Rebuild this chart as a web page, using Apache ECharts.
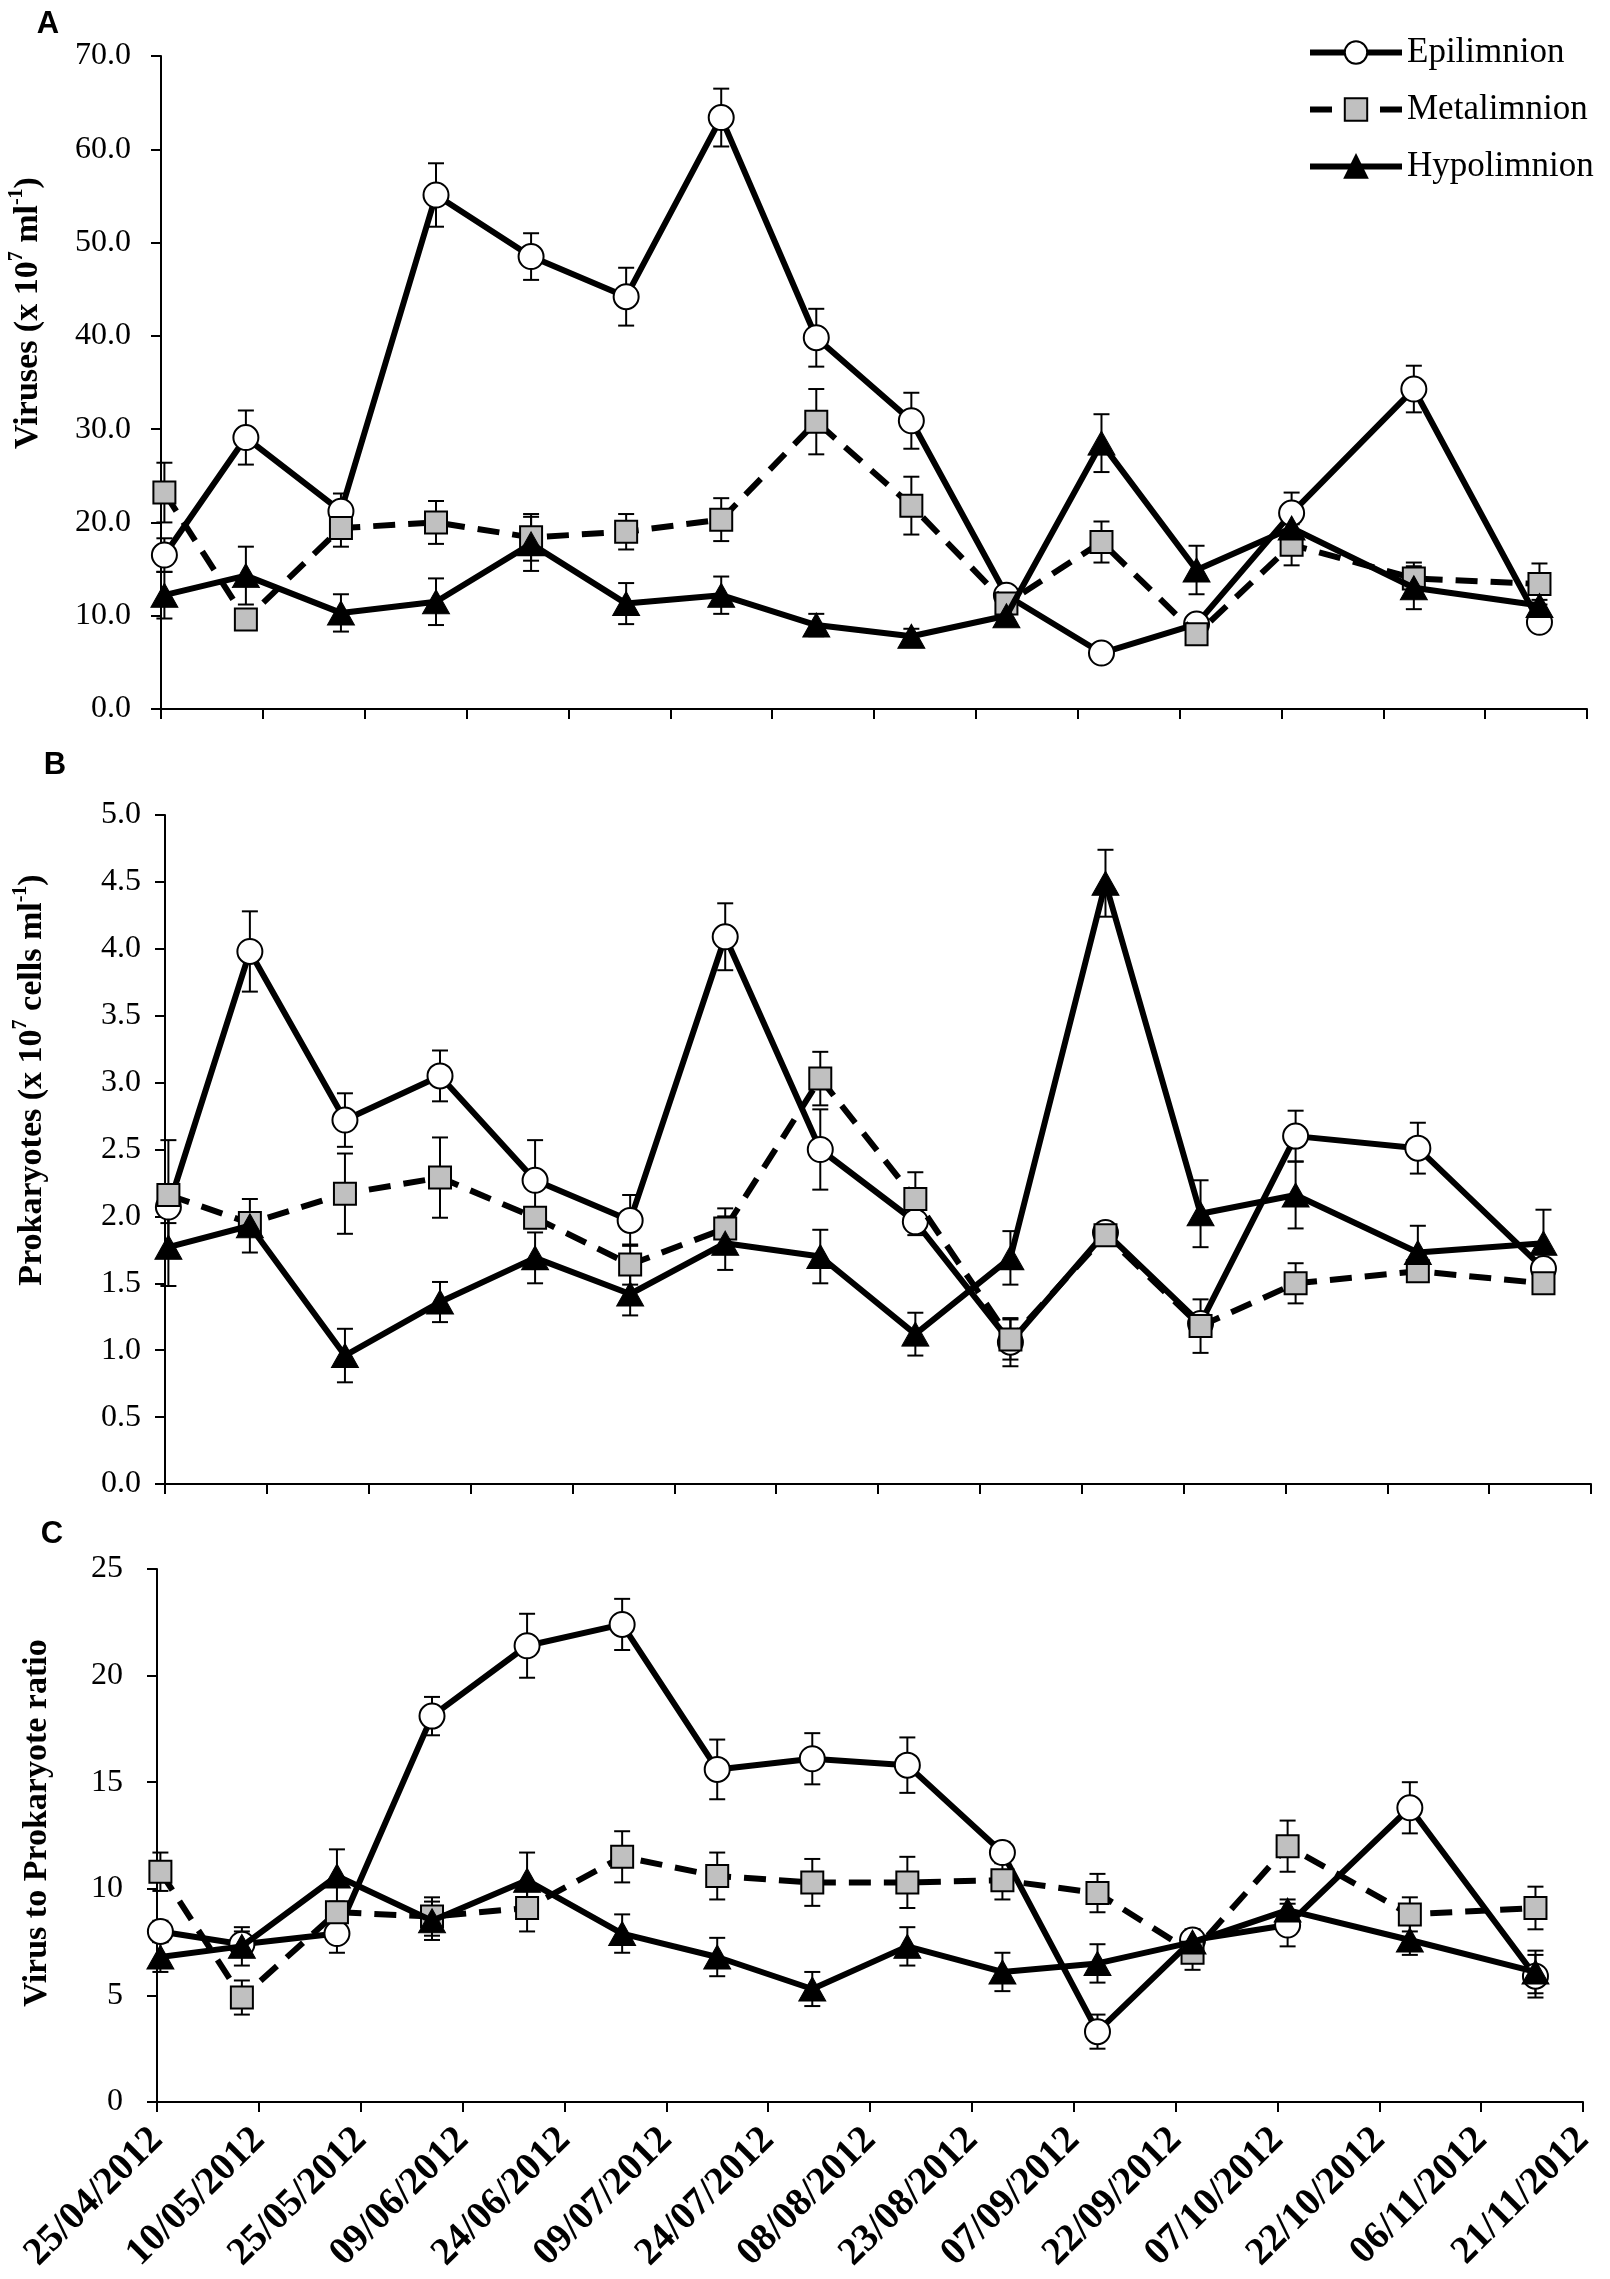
<!DOCTYPE html>
<html>
<head>
<meta charset="utf-8">
<script src="https://cdn.jsdelivr.net/npm/echarts@6/dist/echarts.min.js"></script>
<style>
  html, body { margin: 0; padding: 0; background: #fff; }
  #chart { width: 1610px; height: 2279px; }
</style>
</head>
<body>
<div id="chart"></div>
<script>
// Sampling days, counted from 25/04/2012
var sampleDay = [0.5, 12.5, 26.5, 40.5, 54.5, 68.5, 82.5, 96.5, 110.5, 124.5, 138.5, 152.5, 166.5, 184.5, 203];

// A: viruses (x 10^7 ml-1)
var virusEpi  = [16.5, 29.1, 21.2, 55.1, 48.5, 44.2, 63.4, 39.8, 30.9, 12.2, 6.0, 9.1, 21.0, 34.3, 9.3];
var virusMeta = [23.2, 9.6, 19.4, 20.0, 18.4, 19.0, 20.3, 30.8, 21.8, 11.3, 17.9, 8.0, 17.6, 14.0, 13.4];
var virusHypo = [12.2, 14.3, 10.3, 11.5, 17.7, 11.3, 12.2, 9.0, 7.8, 10.0, 28.5, 14.9, 19.4, 13.0, 11.1];
var virusEpiErr  = [1.8, 2.9, 1.9, 3.4, 2.5, 3.1, 3.1, 3.1, 3.0, 0.6, 0.4, 0.6, 2.2, 2.5, 0.6];
var virusMetaErr = [3.2, 1.0, 2.0, 2.3, 2.5, 1.9, 2.3, 3.5, 3.1, 0.6, 2.2, 0.5, 2.2, 1.7, 2.2];
var virusHypoErr = [2.5, 3.1, 2.0, 2.5, 2.9, 2.2, 2.0, 1.2, 0.8, 0.5, 3.1, 2.6, 0.5, 2.3, 0.6];

// B: prokaryotes (x 10^7 cells ml-1)
var prokEpi  = [2.07, 3.98, 2.72, 3.05, 2.27, 1.97, 4.09, 2.50, 1.96, 1.06, 1.88, 1.20, 2.60, 2.51, 1.61];
var prokMeta = [2.16, 1.95, 2.17, 2.29, 1.99, 1.64, 1.91, 3.03, 2.13, 1.08, 1.86, 1.18, 1.50, 1.59, 1.50];
var prokHypo = [1.77, 1.93, 0.96, 1.36, 1.69, 1.42, 1.80, 1.70, 1.12, 1.69, 4.49, 2.02, 2.16, 1.73, 1.80];
var prokEpiErr  = [0.12, 0.30, 0.20, 0.19, 0.30, 0.19, 0.25, 0.30, 0.10, 0.18, 0.05, 0.05, 0.19, 0.19, 0.05];
var prokMetaErr = [0.41, 0.05, 0.30, 0.30, 0.05, 0.15, 0.15, 0.20, 0.20, 0.15, 0.05, 0.20, 0.15, 0.05, 0.05];
var prokHypoErr = [0.29, 0.20, 0.20, 0.15, 0.19, 0.16, 0.20, 0.20, 0.16, 0.20, 0.25, 0.25, 0.25, 0.20, 0.25];

// C: virus to prokaryote ratio
var vprEpi  = [8.0, 7.4, 7.9, 18.1, 21.4, 22.4, 15.6, 16.1, 15.8, 11.7, 3.3, 7.6, 8.3, 13.8, 5.9];
var vprMeta = [10.8, 4.9, 8.9, 8.7, 9.1, 11.5, 10.6, 10.3, 10.3, 10.4, 9.8, 7.0, 12.0, 8.8, 9.1];
var vprHypo = [6.8, 7.3, 10.6, 8.5, 10.4, 7.9, 6.8, 5.3, 7.3, 6.1, 6.5, 7.5, 9.0, 7.6, 6.1];
var vprEpiErr  = [0.5, 0.6, 0.9, 0.9, 1.5, 1.2, 1.4, 1.2, 1.3, 0.5, 0.8, 0.5, 1.0, 1.2, 1.0];
var vprMetaErr = [0.9, 0.8, 0.5, 0.9, 1.1, 1.2, 1.1, 1.1, 1.2, 0.9, 0.9, 0.8, 1.2, 0.8, 1.0];
var vprHypoErr = [0.7, 0.9, 1.25, 0.9, 1.3, 0.9, 0.9, 0.8, 0.9, 0.9, 0.9, 0.5, 0.5, 0.7, 1.0];

var layerNames = ['Epilimnion', 'Metalimnion', 'Hypolimnion'];

var SERIF = '"Liberation Serif", "Times New Roman", serif';
var SANS = '"Liberation Sans", Arial, sans-serif';
var LINE_W = 6;

// Format a day offset as dd/mm/yyyy
function dayLabel(v) {
    var d = new Date(Date.UTC(2012, 3, 25) + v * 86400000);
    var dd = ('0' + d.getUTCDate()).slice(-2);
    var mm = ('0' + (d.getUTCMonth() + 1)).slice(-2);
    return dd + '/' + mm + '/' + d.getUTCFullYear();
}

function pairs(vals) {
    return sampleDay.map(function (d, k) { return [d, vals[k]]; });
}

function errData(vals, errs) {
    return sampleDay.map(function (d, k) { return [d, vals[k], errs[k]]; });
}

// Vertical error bar with caps
function renderErr(params, api) {
    var x = api.value(0), y = api.value(1), e = api.value(2);
    var top = api.coord([x, y + e]);
    var bot = api.coord([x, y - e]);
    var cap = 8;
    var st = { stroke: '#000', lineWidth: 2 };
    return {
        type: 'group',
        children: [
            { type: 'line', shape: { x1: top[0], y1: top[1], x2: bot[0], y2: bot[1] }, style: st },
            { type: 'line', shape: { x1: top[0] - cap, y1: top[1], x2: top[0] + cap, y2: top[1] }, style: st },
            { type: 'line', shape: { x1: bot[0] - cap, y1: bot[1], x2: bot[0] + cap, y2: bot[1] }, style: st }
        ]
    };
}

var panels = [
    { grid: { left: 161, top: 56, width: 1426, height: 653 }, max: 70, interval: 10, digits: 1, margin: 30,
      values: [virusEpi, virusMeta, virusHypo], errs: [virusEpiErr, virusMetaErr, virusHypoErr] },
    { grid: { left: 165, top: 815, width: 1426, height: 669 }, max: 5, interval: 0.5, digits: 1, margin: 24,
      values: [prokEpi, prokMeta, prokHypo], errs: [prokEpiErr, prokMetaErr, prokHypoErr] },
    { grid: { left: 157, top: 1569, width: 1426, height: 533 }, max: 25, interval: 5, digits: 0, margin: 34,
      values: [vprEpi, vprMeta, vprHypo], errs: [vprEpiErr, vprMetaErr, vprHypoErr] }
];

var axisLineStyle = { color: '#000', width: 2 };

var grids = [], xAxes = [], yAxes = [], series = [];

panels.forEach(function (p, i) {
    grids.push(p.grid);
    xAxes.push({
        type: 'value', gridIndex: i, min: 0, max: 210, interval: 15,
        axisLine: { show: true, onZero: false, lineStyle: axisLineStyle },
        axisTick: { show: true, length: 10, lineStyle: axisLineStyle },
        splitLine: { show: false },
        axisLabel: i === 2 ? {
            show: true, rotate: 45, margin: 32, color: '#000',
            fontFamily: SERIF, fontWeight: 'bold', fontSize: 39,
            formatter: dayLabel
        } : { show: false }
    });
    yAxes.push({
        type: 'value', gridIndex: i, min: 0, max: p.max, interval: p.interval,
        axisLine: { show: true, lineStyle: axisLineStyle },
        axisTick: { show: true, length: 10, lineStyle: axisLineStyle },
        splitLine: { show: false },
        axisLabel: {
            margin: p.margin, color: '#000', fontFamily: SERIF, fontSize: 32,
            formatter: function (v) { return v.toFixed(p.digits); }
        }
    });

    // error bars beneath the lines
    p.errs.forEach(function (err, s) {
        series.push({
            type: 'custom', name: 'err' + i + s, xAxisIndex: i, yAxisIndex: i,
            renderItem: renderErr, data: errData(p.values[s], err),
            encode: { x: 0, y: 1 }, z: 1, silent: true
        });
    });

    series.push({
        name: 'Epilimnion', type: 'line', xAxisIndex: i, yAxisIndex: i, data: pairs(p.values[0]),
        symbol: 'circle', symbolSize: 25, showAllSymbol: true,
        lineStyle: { color: '#000', width: LINE_W, join: 'round' },
        itemStyle: { color: '#fff', borderColor: '#000', borderWidth: 2 },
        z: 3
    });
    series.push({
        name: 'Metalimnion', type: 'line', xAxisIndex: i, yAxisIndex: i, data: pairs(p.values[1]),
        symbol: 'rect', symbolSize: 22, showAllSymbol: true,
        lineStyle: { color: '#000', width: LINE_W, type: [22, 13] },
        itemStyle: { color: '#c0c0c0', borderColor: '#000', borderWidth: 2 },
        z: 4
    });
    series.push({
        name: 'Hypolimnion', type: 'line', xAxisIndex: i, yAxisIndex: i, data: pairs(p.values[2]),
        symbol: 'triangle', symbolSize: [27, 24], showAllSymbol: true,
        lineStyle: { color: '#000', width: LINE_W, join: 'round' },
        itemStyle: { color: '#000', borderColor: '#000', borderWidth: 1 },
        z: 5
    });
});

function axisTitle(x, y, rich) {
    return {
        type: 'text', x: x, y: y, rotation: Math.PI / 2,
        style: {
            text: rich, align: 'center', verticalAlign: 'middle', fill: '#000',
            rich: {
                b: { fontFamily: SERIF, fontWeight: 'bold', fontSize: 34, lineHeight: 42, fill: '#000' },
                s: { fontFamily: SERIF, fontWeight: 'bold', fontSize: 20, lineHeight: 20, verticalAlign: 'top', fill: '#000' }
            }
        }
    };
}

function panelLetter(x, y, t) {
    return {
        type: 'text', x: x, y: y,
        style: { text: t, font: 'bold 31px ' + SANS, fill: '#000', align: 'center', verticalAlign: 'middle' }
    };
}

var chart = echarts.init(document.getElementById('chart'), null, { renderer: 'canvas' });
chart.setOption({
    animation: false,
    backgroundColor: '#fff',
    grid: grids,
    xAxis: xAxes,
    yAxis: yAxes,
    legend: {
        data: layerNames, orient: 'vertical', left: 1302, top: 30,
        itemWidth: 92, itemHeight: 28, itemGap: 22, selectedMode: false,
        lineStyle: { width: LINE_W },
        textStyle: { fontFamily: SERIF, fontSize: 35, color: '#000' }
    },
    graphic: [
        panelLetter(48, 24, 'A'),
        panelLetter(55, 765, 'B'),
        panelLetter(52, 1534, 'C'),
        axisTitle(28, 313, '{b|Viruses (x 10}{s|7}{b| ml}{s|-1}{b|)}'),
        axisTitle(32, 1080, '{b|Prokaryotes (x 10}{s|7}{b| cells ml}{s|-1}{b|)}'),
        axisTitle(37, 1823, '{b|Virus to Prokaryote ratio}')
    ],
    series: series
});
</script>
</body>
</html>
